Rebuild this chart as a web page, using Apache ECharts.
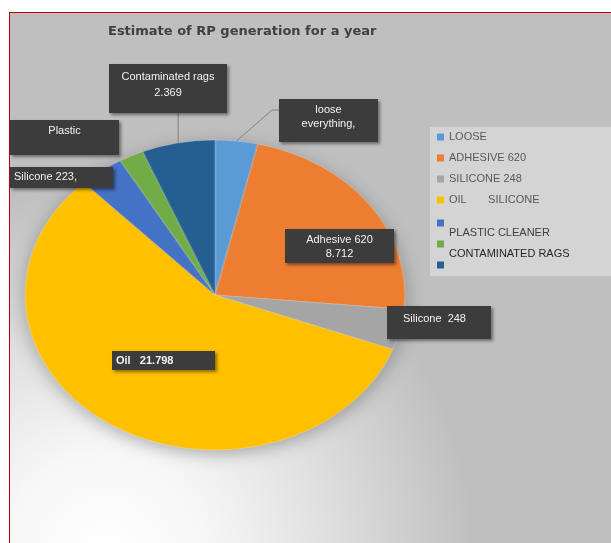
<!DOCTYPE html>
<html><head><meta charset="utf-8">
<script src="https://cdn.jsdelivr.net/npm/echarts@6/dist/echarts.min.js"></script>
<style>
html,body{margin:0;padding:0;background:#fff;width:611px;height:543px;overflow:hidden;}
#frame{position:absolute;left:9px;top:12px;width:620px;height:560px;border-left:1px solid #c00000;border-top:1px solid #c00000;
background:radial-gradient(circle at 95px 540px,#ffffff 0px,#f7f7f7 100px,#e0e0e0 220px,#bfbfbf 370px);}
#pie{position:absolute;left:0;top:0;width:611px;height:543px;filter:drop-shadow(0 4px 8px rgba(0,0,0,0.28));}
#main{position:absolute;left:0;top:0;width:611px;height:543px;}
</style></head><body>
<div id="frame"></div><div id="pie"></div><div id="main"></div>
<script>
// ---- data ----
const categories = ['LOOSE', 'ADHESIVE 620', 'SILICONE 248', 'OIL', 'SILICONE 223', 'PLASTIC CLEANER', 'CONTAMINATED RAGS'];
const values = [1.38, 8.712, 1.62, 21.798, 1.45, 0.80, 2.369];
const legendTexts = ['LOOSE', 'ADHESIVE 620', 'SILICONE 248', 'OIL       SILICONE', 'PLASTIC CLEANER', 'CONTAMINATED RAGS', ' '];
const labelNames = ['loose\neverything,', 'Adhesive 620', 'Silicone  248', 'Oil', 'Silicone 223,', 'Plastic', 'Contaminated rags'];
const showValue = [false, true, false, true, false, false, true];
const titleText = 'Estimate of RP generation for a year';

// ---- styles / layout ----
const colors = ['#5b9bd5', '#ed7d31', '#a5a5a5', '#ffc000', '#4472c4', '#70ad47', '#255e91'];
const valueSep = ['', '\n', '', '   ', '', '', '\n'];
const CENTER = [215, 295], RADIUS = 155, XSTRETCH = 190 / 155;   // pie is drawn as an ellipse
const labelBoxes = [
  {x:279, y:99,  w:99,  h:43, align:'center', pt:4, pl:0,  lh:14, line:'side'},
  {x:285, y:229, w:109, h:34, align:'center', pt:4, pl:0,  lh:14},
  {x:387, y:306, w:104, h:33, align:'left',   pt:6, pl:16, lh:14},
  {x:112, y:351, w:103, h:19, align:'left',   pt:3, pl:4,  lh:14, bold:true},
  {x:10,  y:167, w:103, h:21, align:'left',   pt:3, pl:4,  lh:14},
  {x:10,  y:120, w:109, h:35, align:'center', pt:4, pl:0,  lh:14},
  {x:109, y:64,  w:118, h:49, align:'center', pt:5, pl:0,  lh:16, line:'down'}
];
const legendTextColors = ['#595959', '#595959', '#595959', '#595959', '#404040', '#262626', '#404040'];
const FONT = 'Liberation Sans';

// ---- chart A: the coloured (elliptical) pie ----
const pieDiv = document.getElementById('pie');
pieDiv.style.transformOrigin = CENTER[0] + 'px ' + CENTER[1] + 'px';
pieDiv.style.transform = 'scaleX(' + XSTRETCH + ')';
const pieChart = echarts.init(pieDiv, null, {renderer: 'canvas'});
pieChart.setOption({
  animation: false,
  series: [{
    type: 'pie', center: CENTER, radius: RADIUS, startAngle: 90, clockwise: true,
    silent: true, label: {show: false}, labelLine: {show: false},
    itemStyle: {borderColor: 'rgba(255,255,255,0.35)', borderWidth: 0.6},
    data: categories.map((c, i) => ({name: c, value: values[i], itemStyle: {color: colors[i]}}))
  }]
});

// ---- chart B: title, legend, labels ----
const chart = echarts.init(document.getElementById('main'), null, {renderer: 'canvas'});
const legendItem = i => ({name: categories[i], itemStyle: {color: colors[i]}, textStyle: {color: legendTextColors[i]}});
chart.setOption({
  animation: false,
  title: {
    text: titleText, left: 108, top: 25, padding: 0,
    textStyle: {fontSize: 13, fontWeight: 'bold', color: '#404040', fontFamily: 'DejaVu Sans'}
  },
  graphic: [{type: 'rect', left: 430, top: 127, z: 0, shape: {width: 190, height: 149}, style: {fill: '#d4d4d4'}}],
  legend: [{
    orient: 'vertical', left: 437, top: 130, padding: 0, itemWidth: 7, itemHeight: 7, itemGap: 7, icon: 'rect',
    data: [0, 1, 2, 3].map(legendItem),
    formatter: n => legendTexts[categories.indexOf(n)],
    textStyle: {fontSize: 11, fontFamily: FONT, lineHeight: 14}
  }, {
    orient: 'vertical', left: 437, top: 203, padding: 0, itemWidth: 7, itemHeight: 7, itemGap: -19, icon: 'rect',
    data: [4, 5, 6].map(legendItem),
    formatter: n => '\n' + legendTexts[categories.indexOf(n)],
    textStyle: {fontSize: 11, fontFamily: FONT, lineHeight: 20}
  }],
  series: [{
    type: 'pie', center: CENTER, radius: RADIUS, startAngle: 90, clockwise: true,
    silent: true, emphasis: {disabled: true},
    itemStyle: {color: 'rgba(0,0,0,0)'},
    labelLine: {length: 12, length2: 10, lineStyle: {color: '#808080', width: 1}},
    labelLayout: p => {
      const b = labelBoxes[p.dataIndex];
      const out = {x: b.align === 'center' ? b.x + b.w / 2 : b.x, y: b.y, align: b.align, verticalAlign: 'top'};
      if (b.line && p.labelLinePoints) {
        // anchor on the circle, mapped onto the stretched (elliptical) pie
        const a = p.labelLinePoints[0];
        const ax = CENTER[0] + (a[0] - CENTER[0]) * XSTRETCH, ay = a[1];
        if (b.line === 'side') {
          const ly = b.y + b.pt + b.lh / 2;
          out.labelLinePoints = [[ax, ay], [b.x - 7, ly], [b.x, ly]];
        } else {
          out.labelLinePoints = [[ax, ay], [ax, b.y + b.h], [ax, b.y + b.h]];
        }
      }
      return out;
    },
    data: categories.map((c, i) => {
      const b = labelBoxes[i];
      return {
        name: c, value: values[i],
        label: {
          show: true, position: b.line ? 'outside' : 'inside', overflow: 'none',
          formatter: labelNames[i] + (showValue[i] ? valueSep[i] + values[i] : ''),
          width: b.w - b.pl, height: b.h - b.pt, padding: [b.pt, 0, 0, b.pl],
          align: b.align, verticalAlign: 'top', lineHeight: b.lh,
          fontSize: 11, fontFamily: FONT, fontWeight: b.bold ? 'bold' : 'normal', color: '#f2f2f2',
          backgroundColor: '#3c3c3c', shadowBlur: 3, shadowColor: 'rgba(0,0,0,0.45)', shadowOffsetX: 2, shadowOffsetY: 2
        },
        labelLine: {show: !!b.line}
      };
    })
  }]
});
</script>
</body></html>
